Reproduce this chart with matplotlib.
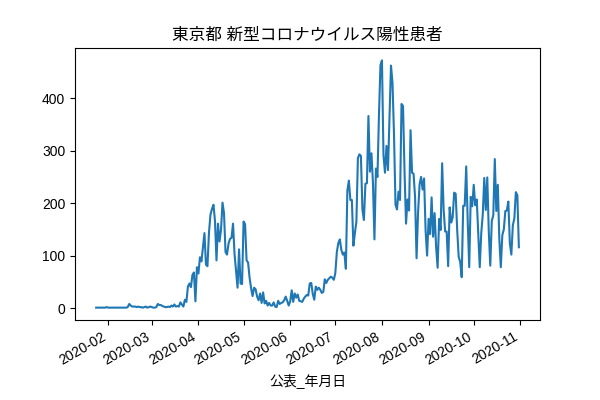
import matplotlib
matplotlib.use('Agg')
import matplotlib.pyplot as plt
import pandas as pd

# 数字はHelvetica系、日本語はCJKフォントへフォールバック
plt.rcParams['font.family'] = ['Liberation Sans', 'Noto Sans CJK JP', 'DejaVu Sans']

# 公表日ごとの陽性患者数（2020-01-24 〜 2020-10-31）
jan = [1, 1, 1, 1, 1, 1, 1, 2]
feb = [1, 1, 1, 1, 1, 1, 1, 1, 1, 1, 1, 1, 1, 2, 8, 5, 3, 3, 3, 2, 3, 2, 2, 1, 2, 3, 1, 2, 3]
mar = [2, 1, 1, 2, 8, 6, 6, 4, 3, 2, 2, 3, 2, 5, 3, 7, 3, 4, 3, 11, 7, 3, 16, 12, 41, 47, 40, 63, 68, 13, 78]
apr = [66, 97, 89, 116, 143, 83, 80, 144, 178, 189, 197, 166, 91, 161, 127, 149, 201, 181, 107, 102,
       123, 132, 134, 161, 103, 72, 39, 112, 47, 46]
may = [165, 160, 91, 87, 58, 38, 23, 39, 36, 22, 15, 28, 10, 30, 9, 14, 5, 10, 5, 5,
       11, 3, 2, 14, 8, 10, 11, 15, 22, 14, 5]
jun = [13, 34, 12, 28, 20, 26, 14, 13, 12, 18, 22, 25, 24, 47, 48, 27, 16, 41, 35, 39,
       35, 29, 31, 55, 48, 54, 57, 60, 58, 54]
jul = [67, 107, 124, 131, 111, 102, 106, 75, 224, 243, 206, 206, 119, 143, 165, 286, 293, 290, 188, 168,
       237, 238, 366, 260, 295, 239, 131, 266, 250, 367, 463]
aug = [472, 292, 258, 309, 263, 360, 462, 429, 331, 197, 188, 222, 206, 389, 385, 260, 161, 207, 186, 339,
       258, 256, 212, 95, 182, 236, 250, 226, 247, 148, 100]
sep = [170, 141, 211, 136, 181, 116, 77, 170, 149, 276, 187, 146, 146, 80, 192, 163, 173, 220, 218, 149,
       98, 88, 59, 195, 195, 270, 165, 78, 212, 194]
oct_ = [235, 196, 207, 143, 78, 143, 178, 248, 187, 249, 146, 81, 166, 177, 284, 185, 235, 132, 78, 139,
        150, 185, 186, 203, 124, 102, 158, 171, 221, 215, 116]

counts = jan + feb + mar + apr + may + jun + jul + aug + sep + oct_
dates = pd.date_range('2020-01-24', periods=len(counts), freq='D')
s = pd.Series(counts, index=dates)

fig, ax = plt.subplots(figsize=(6, 4), dpi=100)
ax.plot(s.index, s.values, color='#1f77b4')
ax.set_title('東京都 新型コロナウイルス陽性患者')
ax.set_xlabel('公表_年月日')
fig.autofmt_xdate()

fig.savefig('out.png')
